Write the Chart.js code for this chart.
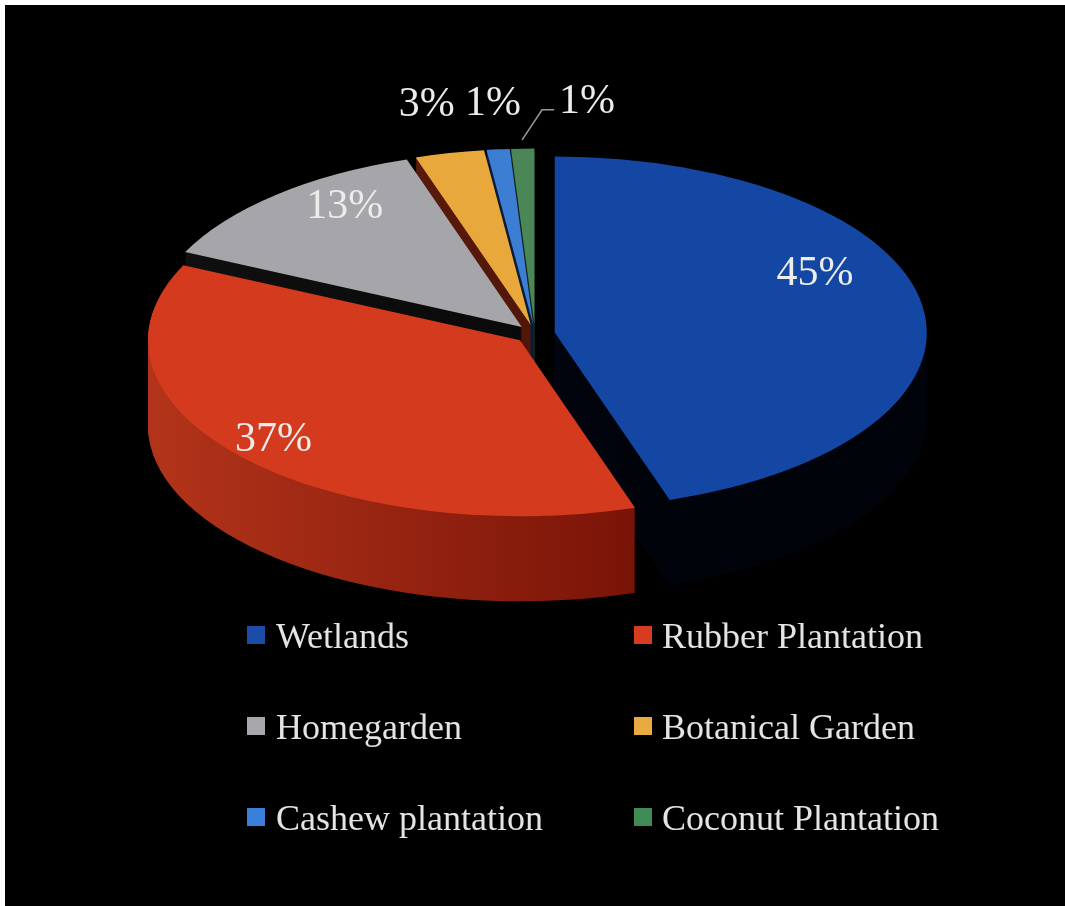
<!DOCTYPE html>
<html>
<head>
<meta charset="utf-8">
<script src="https://cdn.jsdelivr.net/npm/chart.js@4.4.1/dist/chart.umd.min.js"></script>
<style>
  html, body { margin: 0; padding: 0; background: #000000; overflow: hidden; }
  #bt { position: absolute; left: 0; top: 0; width: 1065px; height: 5px; background: #ffffff; }
  #bl { position: absolute; left: 0; top: 0; width: 5px; height: 906px; background: #ffffff; }
  #wrap { position: absolute; left: 0; top: 0; width: 1065px; height: 906px; }
</style>
</head>
<body>
<div id="wrap"><canvas id="c" width="1065" height="906"></canvas></div>
<div id="bt"></div><div id="bl"></div>
<script>
// ---- data ----
const categories = ['Wetlands', 'Rubber Plantation', 'Homegarden', 'Botanical Garden', 'Cashew plantation', 'Coconut Plantation'];
const shares = [45, 37, 13, 3, 1, 1];
const pctLabels = ['45%', '37%', '13%', '3%', '1%', '1%'];

// ---- styles ----
const topColors = ['#1447a4', '#d43a1d', '#a6a6aa', '#e8a83c', '#3b7ed3', '#4b8756'];
const legendColors = ['#1a4ca8', '#d63c20', '#a8a8ac', '#e9aa40', '#3a80d8', '#3f8a55'];
const sideLight = ['#040a1c', '#b3341a', '#101010', '#6a2410', '#10264a', '#17301c'];
const sideDark = ['#01030a', '#7a1408', '#080808', '#4a1206', '#0a1830', '#0e2014'];
const labelRadius = [0.775, 0.87, 0.83, 1.28, 1.26, 1.05];
const labelAngleShift = [-16.5, 1, 6.4, 0, 0.5, 0];

const CX = 535, CY = 334, RX = 372, RY = 176, DEPTH = 85, EXPLODE = 20;
const LABEL_FONT = "42px 'Liberation Serif', 'Times New Roman', serif";
const LEGEND_FONT = "36px 'Liberation Serif', 'Times New Roman', serif";

function midAngle(el) { return (el.startAngle + el.endAngle) / 2; }

const pie3d = {
  id: 'pie3d',
  beforeDraw(chart) {
    const ctx = chart.ctx;
    ctx.save();
    ctx.fillStyle = '#000000';
    ctx.fillRect(0, 0, chart.width, chart.height);
    ctx.restore();
  },
  beforeDatasetsDraw(chart) {
    const ctx = chart.ctx;
    const arcs = chart.getDatasetMeta(0).data;
    if (!arcs.length) return false;
    const R = arcs[0].outerRadius, ox = arcs[0].x, oy = arcs[0].y;
    const setT = (shift) => {
      ctx.translate(CX, CY + shift);
      ctx.scale(RX / R, RY / R);
      ctx.translate(-ox, -oy);
    };
    const grads = arcs.map((el, i) => {
      const g = ctx.createLinearGradient(ox - R, 0, ox + R * 0.3, 0);
      g.addColorStop(0, sideLight[i]);
      g.addColorStop(1, sideDark[i]);
      return g;
    });
    // side walls (stacked layers)
    for (let t = DEPTH; t >= 1; t--) {
      arcs.forEach((el, i) => {
        const mid = midAngle(el);
        ctx.save();
        setT(t);
        ctx.translate(Math.cos(mid) * EXPLODE, Math.sin(mid) * EXPLODE);
        ctx.fillStyle = grads[i];
        ctx.beginPath();
        ctx.moveTo(el.x, el.y);
        ctx.arc(el.x, el.y, el.outerRadius, el.startAngle, el.endAngle);
        ctx.closePath();
        ctx.fill();
        ctx.restore();
      });
    }
    // top faces drawn by Chart.js arc elements
    arcs.forEach((el) => {
      const mid = midAngle(el);
      ctx.save();
      setT(0);
      ctx.translate(Math.cos(mid) * EXPLODE, Math.sin(mid) * EXPLODE);
      el.draw(ctx);
      ctx.restore();
    });
    return false;
  },
  afterDraw(chart) {
    const ctx = chart.ctx;
    const arcs = chart.getDatasetMeta(0).data;
    if (!arcs.length) return;
    const R = arcs[0].outerRadius;
    const toScreen = (el, ang, r) => {
      const mid = midAngle(el);
      const px = Math.cos(mid) * EXPLODE + Math.cos(ang) * r;
      const py = Math.sin(mid) * EXPLODE + Math.sin(ang) * r;
      return { x: CX + px * RX / R, y: CY + py * RY / R };
    };
    ctx.save();
    ctx.font = LABEL_FONT;
    ctx.fillStyle = '#ececec';
    ctx.textBaseline = 'middle';
    arcs.forEach((el, i) => {
      const mid = midAngle(el);
      if (i === arcs.length - 1) {
        // leader line label
        const s = toScreen(el, mid, R * labelRadius[i]);
        const e1 = { x: s.x + 20, y: s.y - 30 };
        const e2 = { x: e1.x + 12, y: e1.y };
        ctx.strokeStyle = '#9a9a9a';
        ctx.lineWidth = 1.5;
        ctx.beginPath();
        ctx.moveTo(s.x, s.y); ctx.lineTo(e1.x, e1.y); ctx.lineTo(e2.x, e2.y);
        ctx.stroke();
        ctx.textAlign = 'left';
        ctx.fillText(pctLabels[i], e2.x + 5, e2.y - 8);
      } else {
        const ang = mid + labelAngleShift[i] * Math.PI / 180;
        const p = toScreen(el, ang, R * labelRadius[i]);
        ctx.textAlign = 'center';
        ctx.fillText(pctLabels[i], p.x, p.y);
      }
    });
    // legend: 2 columns x 3 rows
    ctx.font = LEGEND_FONT;
    ctx.textAlign = 'left';
    ctx.textBaseline = 'alphabetic';
    const colBox = [247, 634];
    const colText = [276, 662];
    const rowBase = [648, 739, 830];
    chart.data.labels.forEach((lab, i) => {
      const c = i % 2, r = Math.floor(i / 2);
      ctx.fillStyle = legendColors[i];
      ctx.fillRect(colBox[c], rowBase[r] - 22, 18, 18);
      ctx.fillStyle = '#e4e4e4';
      ctx.fillText(lab, colText[c], rowBase[r]);
    });
    ctx.restore();
  }
};

new Chart(document.getElementById('c'), {
  type: 'pie',
  data: {
    labels: categories,
    datasets: [{
      data: shares,
      backgroundColor: topColors,
      borderWidth: 0,
      offset: 0
    }]
  },
  options: {
    responsive: false,
    animation: false,
    devicePixelRatio: 1,
    events: [],
    layout: { padding: { left: 163, right: 158, top: 81, bottom: 81 } },
    plugins: {
      legend: { display: false },
      tooltip: { enabled: false }
    }
  },
  plugins: [pie3d]
});
</script>
</body>
</html>
